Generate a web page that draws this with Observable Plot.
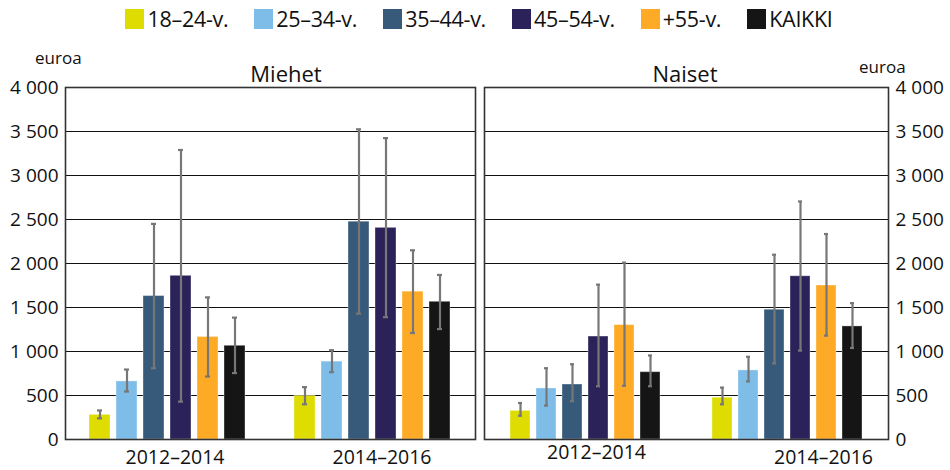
<!DOCTYPE html>
<html>
<head>
<meta charset="utf-8">
<script src="https://cdn.jsdelivr.net/npm/d3@7"></script>
<script src="https://cdn.jsdelivr.net/npm/@observablehq/plot@0.6"></script>
<style>
  html, body { margin: 0; padding: 0; background: #fff; }
  #root { position: relative; width: 950px; height: 470px; font-family: "Open Sans", sans-serif; color: #111; overflow: hidden; }
  .abs { position: absolute; white-space: nowrap; }
  #legend { position: absolute; left: 0; top: 8px; width: 950px; display: flex; justify-content: center; gap: 26px; padding-left: 8px; box-sizing: border-box; }
  .item { display: flex; align-items: center; font-size: 21.5px; line-height: 22px; letter-spacing: -0.3px; }
  .sw { width: 19px; height: 20px; margin-right: 3px; }
  .title { font-size: 22px; top: 58px; transform: translateX(-50%); }
  .unit { font-size: 17px; }
</style>
</head>
<body>
<div id="root">
  <div id="legend"></div>
  <div class="abs title" style="left:286px">Miehet</div>
  <div class="abs title" style="left:685px">Naiset</div>
  <div class="abs unit" style="left:35px; top:46px">euroa</div>
  <div class="abs unit" style="left:859px; top:55px">euroa</div>
  <div id="left" class="abs" style="left:0; top:40px"></div>
  <div id="right" class="abs" style="left:480px; top:40px"></div>
</div>
<script>
const periods = ["2012–2014", "2014–2016"];
const ages = ["18–24-v.", "25–34-v.", "35–44-v.", "45–54-v.", "+55-v.", "KAIKKI"];
const colors = ["#dedc00", "#7fbde9", "#375a7b", "#2a2259", "#fdab27", "#151515"];
const yTicks = [0, 500, 1000, 1500, 2000, 2500, 3000, 3500, 4000];

const miehet2012 = [280, 660, 1630, 1860, 1165, 1065];
const miehet2012Low = [240, 545, 810, 430, 715, 755];
const miehet2012High = [330, 795, 2450, 3290, 1615, 1385];
const miehet2014 = [495, 885, 2475, 2405, 1680, 1565];
const miehet2014Low = [400, 765, 1430, 1390, 1210, 1255];
const miehet2014High = [595, 1015, 3525, 3425, 2150, 1870];

const naiset2012 = [325, 580, 625, 1170, 1300, 765];
const naiset2012Low = [270, 385, 435, 605, 610, 605];
const naiset2012High = [415, 810, 855, 1760, 2010, 955];
const naiset2014 = [475, 785, 1475, 1855, 1750, 1285];
const naiset2014Low = [400, 660, 865, 1010, 1180, 1040];
const naiset2014High = [590, 940, 2100, 2705, 2335, 1550];

function rowsOf(sets) {
  const rows = [];
  sets.forEach(([period, vals, lows, highs]) => {
    ages.forEach((age, i) => rows.push({period, age, value: vals[i], low: lows[i], high: highs[i]}));
  });
  return rows;
}
const menRows = rowsOf([[periods[0], miehet2012, miehet2012Low, miehet2012High],
                        [periods[1], miehet2014, miehet2014Low, miehet2014High]]);
const womenRows = rowsOf([[periods[0], naiset2012, naiset2012Low, naiset2012High],
                          [periods[1], naiset2014, naiset2014Low, naiset2014High]]);

const fmt = d => d3.format(",")(d).replace(/,/g, " ");

// legend
const legend = document.getElementById("legend");
ages.forEach((a, i) => {
  const it = document.createElement("div");
  it.className = "item";
  it.innerHTML = `<span class="sw" style="background:${colors[i]}"></span><span>${a}</span>`;
  legend.appendChild(it);
});

function periodAxis(k, pad, dx) {
  return Plot.axisFx({
    anchor: "bottom", tickSize: 0, tickPadding: pad, dx, fontSize: 19.5, label: null,
    tickFormat: d => (d === periods[k] ? d : "")
  });
}

function panel(rows, side, opts) {
  const errStroke = "#777";
  return Plot.plot({
    width: opts.width, height: 430,
    marginTop: 47, marginBottom: 31,
    marginLeft: opts.marginLeft, marginRight: opts.marginRight,
    style: {fontFamily: "'Open Sans', sans-serif", color: "#111", background: "transparent", overflow: "visible"},
    fx: {domain: periods, padding: 0, axis: null, label: null},
    x: {domain: ages, paddingInner: 0.22, paddingOuter: 0.87, axis: null},
    y: {domain: [0, 4000], axis: null},
    color: {domain: ages, range: colors},
    marks: [
      Plot.gridY(yTicks, {stroke: "#111", strokeOpacity: 1, strokeWidth: 1}),
      Plot.barY(rows, {fx: "period", x: "age", y: "value", fill: "age", stroke: "#fff", strokeOpacity: 0.35, strokeWidth: 1}),
      Plot.ruleX(rows, {fx: "period", x: "age", y1: "low", y2: "high", stroke: errStroke, strokeWidth: 2.2}),
      Plot.tickY(rows, {fx: "period", x: "age", y: "low", stroke: errStroke, strokeWidth: 2.2, insetLeft: 8, insetRight: 8}),
      Plot.tickY(rows, {fx: "period", x: "age", y: "high", stroke: errStroke, strokeWidth: 2.2, insetLeft: 8, insetRight: 8}),
      Plot.frame({facet: "super", stroke: "#333", strokeWidth: 1.6}),
      Plot.axisY(yTicks, {anchor: side, tickSize: 0, tickPadding: 7, tickFormat: fmt, fontSize: 19, label: null}),
      periodAxis(0, opts.pad[0], opts.dx[0]),
      periodAxis(1, opts.pad[1], opts.dx[1])
    ]
  });
}

document.getElementById("left").appendChild(panel(menRows, "left",
  {width: 480, marginLeft: 65, marginRight: 5, pad: [11, 11], dx: [7, 9]}));
document.getElementById("right").appendChild(panel(womenRows, "right",
  {width: 470, marginLeft: 3, marginRight: 62, pad: [6, 11], dx: [11, 36]}));
</script>
</body>
</html>
